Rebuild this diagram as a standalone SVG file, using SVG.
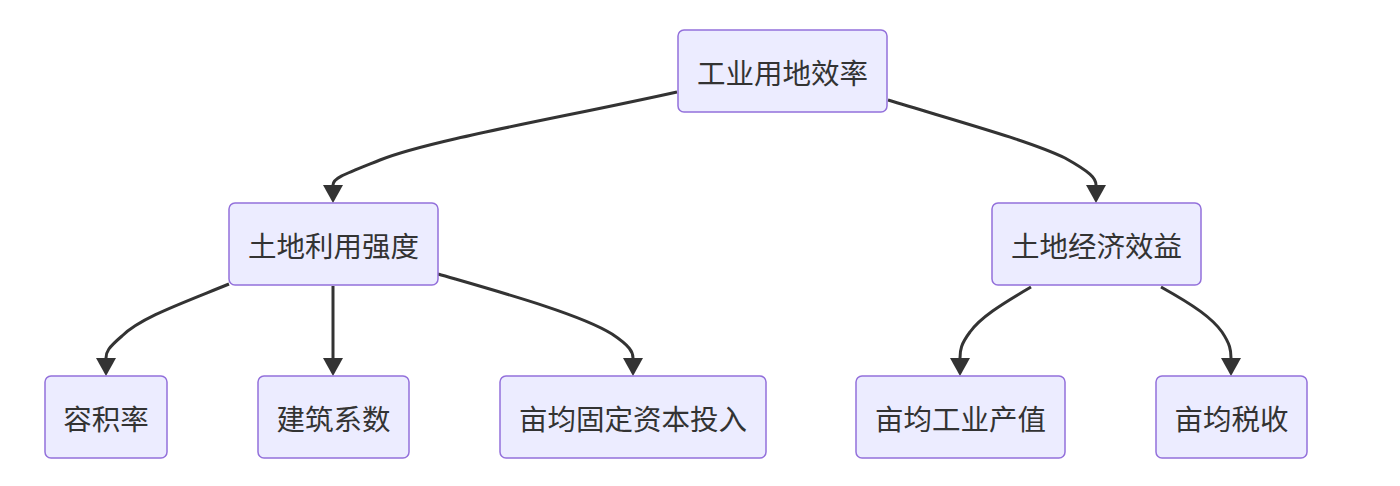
<svg xmlns="http://www.w3.org/2000/svg" width="1400" height="486" viewBox="0 0 1400 486">
<style>
.node rect{fill:#ECECFF;stroke:#9370DB;stroke-width:1.5}
.node text{font-family:"Noto Sans CJK SC","Noto Sans",sans-serif;font-size:28.5px;fill:#333;text-anchor:middle;dominant-baseline:central}
.edges path{fill:none;stroke:#333;stroke-width:3;marker-end:url(#arrow)}
</style>
<defs>
<marker id="arrow" viewBox="0 0 10 10" refX="0" refY="5" markerWidth="18" markerHeight="20" markerUnits="userSpaceOnUse" orient="auto" preserveAspectRatio="none">
<path d="M0,0 L10,5 L0,10 z" fill="#333"/>
</marker>
</defs>
<rect width="1400" height="486" fill="#fff"/>
<g class="edges">
<path d="M677,92 C560,118 430,140 380,160 C345,174 333,178 333,185"/>
<path d="M888,100 C960,122 1030,141 1065,158 C1090,172 1096,178 1096,185"/>
<path d="M229,284 C180,304 140,318 122,336 C108,348 106,352 106,358"/>
<path d="M333,286 L333,358"/>
<path d="M438,274 C500,292 580,314 612,334 C630,346 633,352 633,358"/>
<path d="M1031,287 C1000,305 980,318 970,332 C961,344 960,350 960,358"/>
<path d="M1161,287 C1195,306 1212,318 1222,332 C1230,344 1231,350 1231,358"/>
</g>
<g id="n1" class="node"><rect x="678" y="30" width="209" height="82" rx="6"/><text x="782.5" y="71">工业用地效率</text></g>
<g id="n2" class="node"><rect x="229" y="203" width="209" height="82" rx="6"/><text x="333.5" y="244">土地利用强度</text></g>
<g id="n3" class="node"><rect x="992" y="203" width="209" height="82" rx="6"/><text x="1096.5" y="244">土地经济效益</text></g>
<g id="n4" class="node"><rect x="45" y="376" width="122" height="82" rx="6"/><text x="106" y="417">容积率</text></g>
<g id="n5" class="node"><rect x="258" y="376" width="151" height="82" rx="6"/><text x="333.5" y="417">建筑系数</text></g>
<g id="n6" class="node"><rect x="500" y="376" width="266" height="82" rx="6"/><text x="633" y="417">亩均固定资本投入</text></g>
<g id="n7" class="node"><rect x="856" y="376" width="209" height="82" rx="6"/><text x="960.5" y="417">亩均工业产值</text></g>
<g id="n8" class="node"><rect x="1156" y="376" width="151" height="82" rx="6"/><text x="1231.5" y="417">亩均税收</text></g>
</svg>
